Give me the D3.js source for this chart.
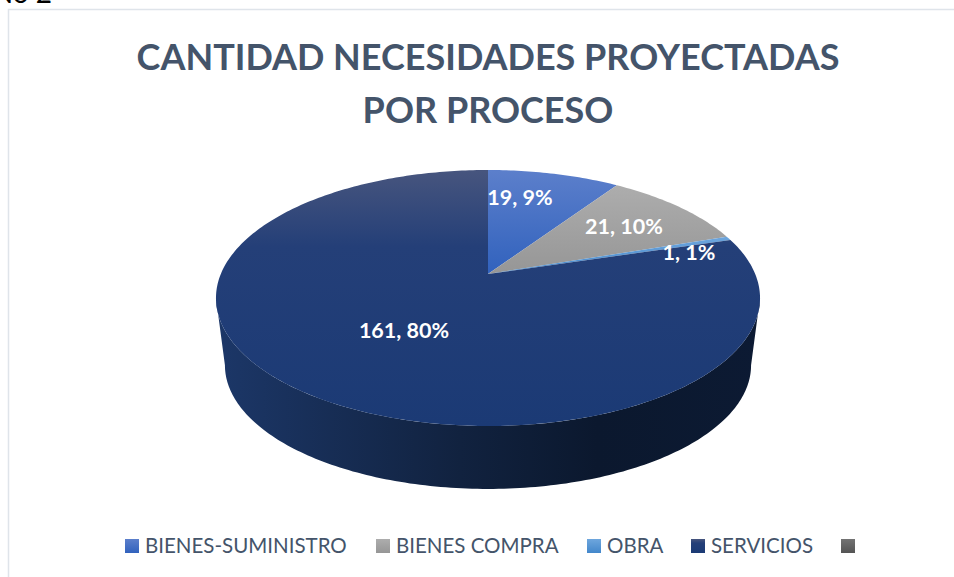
<!DOCTYPE html>
<html>
<head>
<meta charset="utf-8">
<script src="https://cdn.jsdelivr.net/npm/d3@7"></script>
<style>
    html, body { margin: 0; padding: 0; background: #fff; overflow: hidden; }
    text { font-family: Lato, "Open Sans", sans-serif; }
</style>
</head>
<body>
<script>
(function () {
    var titleLines = ["CANTIDAD NECESIDADES PROYECTADAS", "POR PROCESO"];
    var categories = ["BIENES-SUMINISTRO", "BIENES COMPRA", "OBRA", "SERVICIOS", ""];
    var values = [19, 21, 1, 161];
    var percents = ["9%", "10%", "1%", "80%"];
    var topColors = ["#5c7fcb", "#adadad", "#6ea6dd", "#47557e", "#737373"];
    var bottomColors = ["#3162bd", "#969696", "#4387cb", "#1b3a75", "#545454"];
    var legendX = [125, 376, 587, 691, 841];
    var labelPos = [[520, 198], [624, 227], [689, 253], [404, 331]];

    var width = 954;
    var height = 577;

    var svg = d3.select("body").append("svg")
        .attr("width", width)
        .attr("height", height)
        .style("display", "block");

    var defs = svg.append("defs");

    categories.forEach(function (c, i) {
        var g = defs.append("linearGradient")
            .attr("id", "slice" + i)
            .attr("x1", 0).attr("y1", 0).attr("x2", 0).attr("y2", 1);
        g.append("stop").attr("offset", "0%").attr("stop-color", topColors[i]);
        g.append("stop").attr("offset", i == 3 ? "30%" : "100%").attr("stop-color", i == 3 ? "#243f78" : bottomColors[i]);
        if (i == 3) {
            g.append("stop").attr("offset", "100%").attr("stop-color", bottomColors[i]);
        }
    });

    var sideGrad = defs.append("linearGradient")
        .attr("id", "side")
        .attr("x1", 0).attr("y1", 0).attr("x2", 1).attr("y2", 0);
    sideGrad.append("stop").attr("offset", "0%").attr("stop-color", "#1c3768");
    sideGrad.append("stop").attr("offset", "45%").attr("stop-color", "#11223f");
    sideGrad.append("stop").attr("offset", "70%").attr("stop-color", "#0b182e");
    sideGrad.append("stop").attr("offset", "100%").attr("stop-color", "#0c1a33");

    // frame and the clipped caption above it
    svg.append("path")
        .attr("d", "M8.5,577V9.5H954")
        .attr("fill", "none")
        .attr("stroke", "#dfe4ea")
        .attr("stroke-width", 1.5);

    svg.append("text")
        .attr("x", 52).attr("y", 3)
        .attr("text-anchor", "end")
        .attr("font-size", 28)
        .attr("fill", "#000")
        .text("No 2");

    svg.append("g")
        .selectAll("text")
        .data(titleLines)
        .enter()
        .append("text")
        .attr("x", 488)
        .attr("y", function (d, i) { return 70 + i * 53; })
        .attr("text-anchor", "middle")
        .attr("font-size", 36)
        .attr("font-weight", 700)
        .attr("fill", "#44546a")
        .text(function (d) { return d; });

    // perspective mapping of the pie disc onto the page
    var k = 0.1875;
    function project(a, cy, R, H) {
        var u = Math.sin(a), v = -Math.cos(a);
        var w = 1 - k * v;
        return [488 + R * u / w, cy + H * v / w];
    }
    function topPoint(a) { return project(a, 274, 267.2, 123.5); }
    function basePoint(a) { return project(a, 342, 258.4, 119.4); }

    var pie = d3.pie().sort(null).value(function (d) { return d; });
    var arcs = pie(values);

    var line = d3.line();
    function sliceAngles(a0, a1) {
        var n = Math.max(2, Math.ceil((a1 - a0) * 60));
        return d3.range(n + 1).map(function (i) { return a0 + (a1 - a0) * i / n; });
    }

    // side wall: from the right silhouette round the front to the left one
    var tangent = Math.acos(-k);
    var front = sliceAngles(tangent, 2 * Math.PI - tangent);
    svg.append("path")
        .attr("d", line(front.map(topPoint).concat(front.slice().reverse().map(basePoint))) + "Z")
        .attr("fill", "url(#side)");

    svg.append("g")
        .selectAll("path")
        .data(arcs)
        .enter()
        .append("path")
        .attr("d", function (d) {
            var pts = sliceAngles(d.startAngle, d.endAngle).map(topPoint);
            return line([[488, 274]].concat(pts)) + "Z";
        })
        .attr("fill", function (d, i) { return "url(#slice" + i + ")"; });

    svg.append("g")
        .selectAll("text")
        .data(values)
        .enter()
        .append("text")
        .attr("x", function (d, i) { return labelPos[i][0]; })
        .attr("y", function (d, i) { return labelPos[i][1] + 7; })
        .attr("text-anchor", "middle")
        .attr("font-size", 21.5)
        .attr("font-weight", 700)
        .attr("fill", "#fff")
        .text(function (d, i) { return d + ", " + percents[i]; });

    var legend = svg.append("g")
        .selectAll("g")
        .data(categories)
        .enter()
        .append("g")
        .attr("transform", function (d, i) { return "translate(" + legendX[i] + ",539)"; });

    legend.append("rect")
        .attr("width", 14)
        .attr("height", 14)
        .attr("fill", function (d, i) { return "url(#slice" + i + ")"; });

    legend.append("text")
        .attr("x", 20)
        .attr("y", 14)
        .attr("font-size", 20.5)
        .attr("fill", "#44546a")
        .text(function (d) { return d; });
})();
</script>
</body>
</html>
